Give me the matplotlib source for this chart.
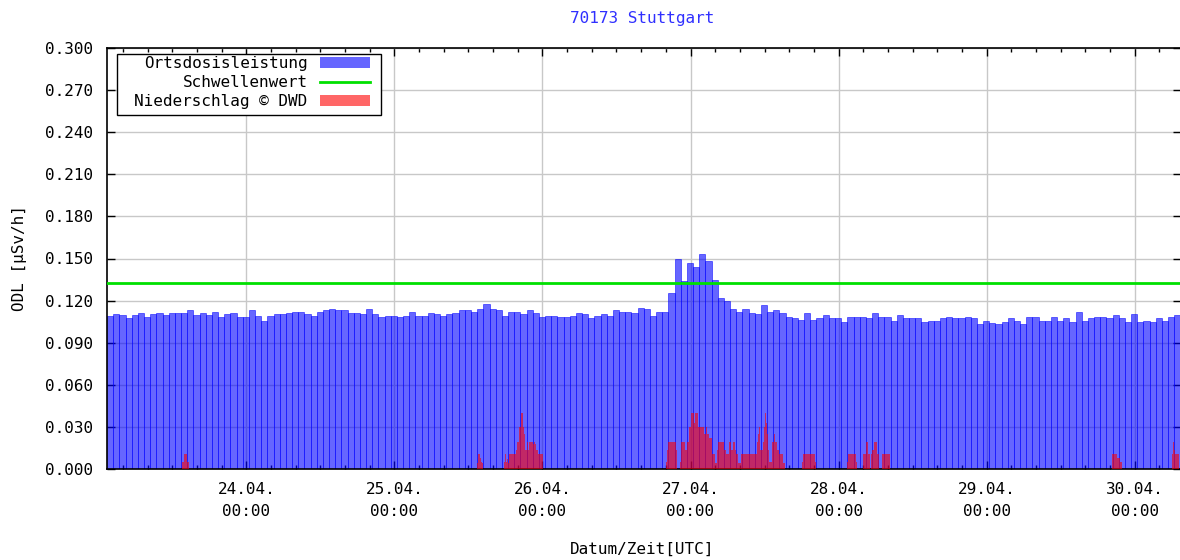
import numpy as np
import matplotlib
matplotlib.use('Agg')
import matplotlib.pyplot as plt
from matplotlib.ticker import MultipleLocator
from matplotlib.patches import Patch, Rectangle
from matplotlib.lines import Line2D

# Stunden ab 23.04. 00:00 UTC
erste_stunde = 1.42

# Ortsdosisleistung, stündlich [µSv/h]
odl = [
    0.1090, 0.1102, 0.1095, 0.1079, 0.1095, 0.1110, 0.1086, 0.1102, 0.1110, 0.1098,
    0.1110, 0.1110, 0.1110, 0.1133, 0.1095, 0.1110, 0.1095, 0.1117, 0.1086, 0.1102,
    0.1110, 0.1086, 0.1083, 0.1133, 0.1093, 0.1057, 0.1093, 0.1102, 0.1102, 0.1110,
    0.1117, 0.1117, 0.1102, 0.1093, 0.1117, 0.1133, 0.1140, 0.1133, 0.1133, 0.1110,
    0.1110, 0.1102, 0.1140, 0.1102, 0.1086, 0.1093, 0.1093, 0.1086, 0.1093, 0.1117,
    0.1093, 0.1093, 0.1110, 0.1102, 0.1093, 0.1102, 0.1110, 0.1133, 0.1133, 0.1117,
    0.1140, 0.1174, 0.1140, 0.1133, 0.1093, 0.1117, 0.1117, 0.1102, 0.1133, 0.1110,
    0.1086, 0.1093, 0.1093, 0.1086, 0.1086, 0.1093, 0.1110, 0.1102, 0.1079, 0.1093,
    0.1102, 0.1093, 0.1133, 0.1117, 0.1117, 0.1110, 0.1150, 0.1140, 0.1093, 0.1120,
    0.1120, 0.1257, 0.1494, 0.1338, 0.1466, 0.1442, 0.1532, 0.1485, 0.1347, 0.1219,
    0.1197, 0.1143, 0.1120, 0.1143, 0.1110, 0.1103, 0.1167, 0.1120, 0.1134, 0.1110,
    0.1086, 0.1079, 0.1062, 0.1110, 0.1062, 0.1079, 0.1095, 0.1074, 0.1074, 0.1050,
    0.1086, 0.1086, 0.1086, 0.1074, 0.1110, 0.1086, 0.1086, 0.1057, 0.1095, 0.1074,
    0.1074, 0.1074, 0.1050, 0.1057, 0.1057, 0.1074, 0.1086, 0.1074, 0.1074, 0.1086,
    0.1074, 0.1034, 0.1057, 0.1040, 0.1034, 0.1050, 0.1074, 0.1057, 0.1034, 0.1086,
    0.1086, 0.1057, 0.1057, 0.1086, 0.1057, 0.1074, 0.1050, 0.1119, 0.1057, 0.1074,
    0.1086, 0.1086, 0.1074, 0.1095, 0.1074, 0.1050, 0.1102, 0.1050, 0.1057, 0.1050,
    0.1074, 0.1057, 0.1086, 0.1095]

schwellenwert = 0.1325

# Niederschlag (10-Minuten-Werte, skaliert auf die ODL-Achse)
regen_start = [13.6, 61.37, 65.8, 92.07, 114.0, 121.37, 124.03, 127.0, 164.37, 174.0]
regen_werte = [
    [0.005, 0.005, 0.0105, 0.0105, 0.0105, 0.005, 0.005],
    [0.004, 0.0105, 0.0105, 0.008, 0.005, 0.004],
    [0.005, 0.0105, 0.005, 0.007, 0.004, 0.0105, 0.0105, 0.0105, 0.0105, 0.0105,
     0.0105, 0.0135, 0.0195, 0.0195, 0.0297, 0.0297, 0.0397, 0.0397, 0.0297, 0.025,
     0.0135, 0.0135, 0.0195, 0.0135, 0.0195, 0.0195, 0.0195, 0.0195, 0.018, 0.0195,
     0.018, 0.0135, 0.0135, 0.0105, 0.0105, 0.0105, 0.0105, 0.0105],
    [0.005, 0.0135, 0.0195, 0.0195, 0.0195, 0.0195, 0.0195, 0.0195, 0.0195, 0.0135,
     0.0, 0.0, 0.0, 0.005, 0.0195, 0.0195, 0.0195, 0.0195, 0.0135, 0.0135,
     0.0195, 0.0195, 0.0297, 0.0297, 0.0397,
     0.0397, 0.0397, 0.033, 0.0397, 0.0397, 0.0397,
     0.0297, 0.0297, 0.0297, 0.0297, 0.0297, 0.0297,
     0.025, 0.025, 0.0297, 0.025, 0.025, 0.022, 0.022,
     0.0105, 0.0105, 0.0105, 0.004, 0.004,
     0.0135, 0.0195, 0.0195, 0.0195, 0.0195, 0.0195, 0.0195, 0.0135, 0.0135,
     0.0105, 0.0105, 0.0105, 0.0195, 0.0195, 0.0135, 0.0135, 0.0195, 0.0195, 0.0135,
     0.0105, 0.0105, 0.004, 0.004, 0.004,
     0.0105, 0.0105, 0.0105, 0.0105, 0.0105, 0.0105, 0.0105, 0.0105, 0.0105, 0.0105,
     0.0105, 0.0105, 0.0105, 0.0105, 0.0105,
     0.0195, 0.025, 0.0297,
     0.0135, 0.0135, 0.0135, 0.0195, 0.0297, 0.0397, 0.033, 0.025, 0.0135,
     0.005, 0.005, 0.005, 0.0195, 0.0195, 0.025, 0.0195, 0.0195, 0.0135, 0.0135,
     0.0105, 0.0105, 0.0105, 0.0105, 0.004],
    [0.005, 0.0105, 0.0105, 0.0105, 0.0105, 0.0105, 0.0105, 0.0105, 0.0105, 0.0105,
     0.0105, 0.0105, 0.0105, 0.005],
    [0.005, 0.0105, 0.0105, 0.0105, 0.0105, 0.0105, 0.0105, 0.0105, 0.0105, 0.005],
    [0.0105, 0.0105, 0.0195, 0.0195, 0.0105, 0.0105, 0.0, 0.0105, 0.0135, 0.0135,
     0.0195, 0.0195, 0.0195, 0.0105, 0.0105],
    [0.0105, 0.0105, 0.0105, 0.0105, 0.0105, 0.0105, 0.0105, 0.0105],
    [0.0105, 0.0105, 0.0105, 0.0105, 0.0105, 0.008, 0.008, 0.005, 0.005],
    [0.0105, 0.0195, 0.0135, 0.0105, 0.0105, 0.0105, 0.0105],
]

tage = [24, 48, 72, 96, 120, 144, 168]
tage_labels = ['24.04.\n00:00', '25.04.\n00:00', '26.04.\n00:00', '27.04.\n00:00',
               '28.04.\n00:00', '29.04.\n00:00', '30.04.\n00:00']

plt.rcParams['font.family'] = 'DejaVu Sans Mono'
plt.rcParams['font.size'] = 11.5

fig = plt.figure(figsize=(11.8, 5.6), dpi=100)
ax = fig.add_axes([107/1180, 1 - 469/560, 1073.5/1180, 421/560])

stunden = erste_stunde + np.arange(len(odl))
ax.bar(stunden, odl, width=1.0, align='edge', color='blue', alpha=0.6,
       edgecolor='blue', linewidth=0.6, zorder=2)

for start, werte in zip(regen_start, regen_werte):
    t = start + np.arange(len(werte) + 1) / 6.0
    v = list(werte) + [werte[-1]]
    ax.fill_between(t, v, step='post', color='red', alpha=0.6, linewidth=0, zorder=3)

ax.axhline(schwellenwert, color='#00e000', linewidth=2, zorder=4)

ax.set_xlim(erste_stunde, erste_stunde + len(odl))
ax.set_ylim(0, 0.3)
ax.set_yticks(np.arange(0, 0.301, 0.03))
ax.set_yticklabels(['%.3f' % v for v in np.arange(0, 0.301, 0.03)])
ax.set_xticks(tage)
ax.set_xticklabels(tage_labels, linespacing=1.6)
ax.xaxis.set_minor_locator(MultipleLocator(4))
ax.tick_params(which='both', direction='in', top=True, right=True)
ax.tick_params(which='major', length=6, width=1)
ax.tick_params(which='minor', length=3, width=1)
ax.tick_params(axis='y', pad=10)
ax.tick_params(axis='x', pad=9)
ax.grid(color='#c8c8c8', linewidth=1)
ax.set_axisbelow(True)
for s in ax.spines.values():
    s.set_linewidth(1.2)

# Legendenrahmen
ax.add_patch(Rectangle(((117 - 107) / 1073.5, (469 - 115) / 421), (381 - 117) / 1073.5, 61 / 421,
                       transform=ax.transAxes, facecolor='white', edgecolor='black',
                       linewidth=1, zorder=5))
handles = [Patch(facecolor='blue', alpha=0.6, linewidth=0),
           Line2D([0], [0], color='#00e000', linewidth=2),
           Patch(facecolor='red', alpha=0.6, linewidth=0)]
leg = ax.legend(handles, ['Ortsdosisleistung', 'Schwellenwert', 'Niederschlag © DWD'],
                loc='upper right', bbox_to_anchor=((370 - 107) / 1073.5, (469 - 56) / 421),
                borderaxespad=0, borderpad=0, markerfirst=False, frameon=False,
                handlelength=3.1, handletextpad=0.8, labelspacing=0.26)
leg.set_zorder(6)

fig.text(642/1180, 1 - 18/560, '70173 Stuttgart', color='#3030ff', ha='center', va='center')
fig.text(642/1180, 1 - 549/560, 'Datum/Zeit[UTC]', ha='center', va='center')
fig.text(20/1180, 1 - 258/560, 'ODL [µSv/h]', rotation=90, ha='center', va='center')

fig.savefig('out.png', dpi=100)
